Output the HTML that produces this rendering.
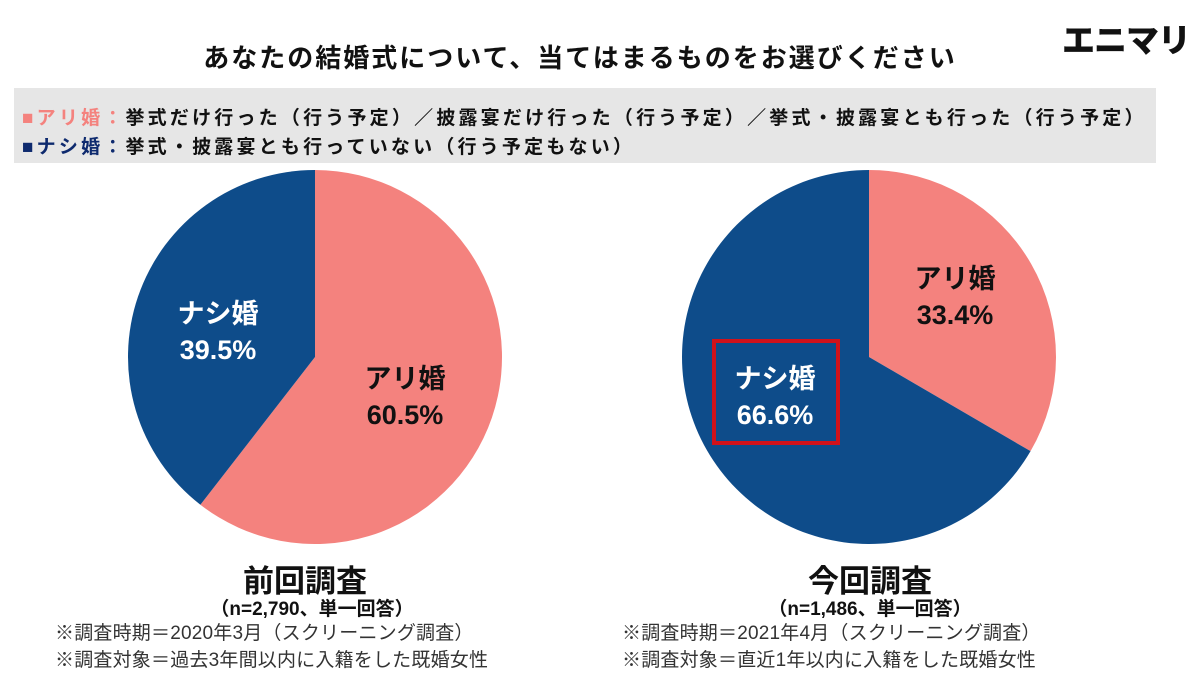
<!DOCTYPE html>
<html><head><meta charset="utf-8">
<style>
html,body{margin:0;padding:0;background:#fff;}
body{width:1200px;height:678px;position:relative;overflow:hidden;font-family:"Liberation Sans","Noto Sans CJK JP",sans-serif;}
.t{position:absolute;white-space:nowrap;}
</style></head><body>
<div class="t" style="left:0;width:1160px;text-align:center;top:38px;font-size:26px;letter-spacing:2px;font-weight:bold;color:#111;">あなたの結婚式について、当てはまるものをお選びください</div>
<div class="t" style="left:1062px;top:14px;font-size:33px;font-weight:900;color:#111;letter-spacing:-1px;">エニマリ</div>
<div style="position:absolute;left:14px;top:88px;width:1142px;height:75px;background:#e6e6e6;"></div>
<div class="t" style="left:22px;top:103px;font-size:19px;letter-spacing:3.2px;font-weight:bold;color:#111;"><span style="color:#f4827e">■アリ婚：</span>挙式だけ行った（行う予定）／披露宴だけ行った（行う予定）／挙式・披露宴とも行った（行う予定）</div>
<div class="t" style="left:22px;top:132px;font-size:19px;letter-spacing:3.2px;font-weight:bold;color:#111;"><span style="color:#0e2a6e">■ナシ婚：</span>挙式・披露宴とも行っていない（行う予定もない）</div>
<svg id="svg" width="1200" height="678" style="position:absolute;left:0;top:0"></svg>
<div class="t" style="left:118px;width:200px;text-align:center;top:296px;font-size:27px;font-weight:bold;color:#fff;line-height:36px;">ナシ婚<br>39.5%</div>
<div class="t" style="left:305px;width:200px;text-align:center;top:361px;font-size:27px;font-weight:bold;color:#111;line-height:36px;">アリ婚<br>60.5%</div>
<div class="t" style="left:855px;width:200px;text-align:center;top:261px;font-size:27px;font-weight:bold;color:#111;line-height:36px;">アリ婚<br>33.4%</div>
<div style="position:absolute;left:712px;top:339px;width:120px;height:98px;border:4px solid #d0121b;"></div>
<div class="t" style="left:675px;width:200px;text-align:center;top:361px;font-size:27px;font-weight:bold;color:#fff;line-height:36px;">ナシ婚<br>66.6%</div>
<div class="t" style="left:205px;width:200px;text-align:center;top:556px;font-size:31px;font-weight:bold;color:#111;">前回調査</div>
<div class="t" style="left:162px;width:300px;text-align:center;top:594px;font-size:19px;font-weight:bold;color:#111;">（n=2,790、単一回答）</div>
<div class="t" style="left:55px;top:620px;font-size:19px;letter-spacing:0.2px;color:#333;line-height:27px;">※調査時期＝2020年3月（スクリーニング調査）<br>※調査対象＝過去3年間以内に入籍をした既婚女性</div>
<div class="t" style="left:770px;width:200px;text-align:center;top:556px;font-size:31px;font-weight:bold;color:#111;">今回調査</div>
<div class="t" style="left:720px;width:300px;text-align:center;top:594px;font-size:19px;font-weight:bold;color:#111;">（n=1,486、単一回答）</div>
<div class="t" style="left:622px;top:620px;font-size:19px;letter-spacing:0.2px;color:#333;line-height:27px;">※調査時期＝2021年4月（スクリーニング調査）<br>※調査対象＝直近1年以内に入籍をした既婚女性</div>
<script>
const categories=["アリ婚","ナシ婚"];
const prevValues=[60.5,39.5];
const currValues=[33.4,66.6];
const colors=["#f4827e","#0e4c8a"];
const svg=document.getElementById('svg');
const NS="http://www.w3.org/2000/svg";
function pie(cx,cy,r,vals,name){
  const tot=vals.reduce((a,b)=>a+b,0);let a0=0;
  vals.forEach((v,i)=>{
    const a1=a0+v/tot*2*Math.PI;
    const x0=cx+r*Math.sin(a0),y0=cy-r*Math.cos(a0),x1=cx+r*Math.sin(a1),y1=cy-r*Math.cos(a1);
    const p=document.createElementNS(NS,'path');
    p.setAttribute('d',`M${cx},${cy}L${x0},${y0}A${r},${r} 0 ${a1-a0>Math.PI?1:0} 1 ${x1},${y1}Z`);
    p.setAttribute('fill',colors[i]);
    
    
    svg.appendChild(p);a0=a1;
  });
}
pie(315,357,187,prevValues,'prev');
pie(869,357,187,currValues,'curr');
</script>
</body></html>
